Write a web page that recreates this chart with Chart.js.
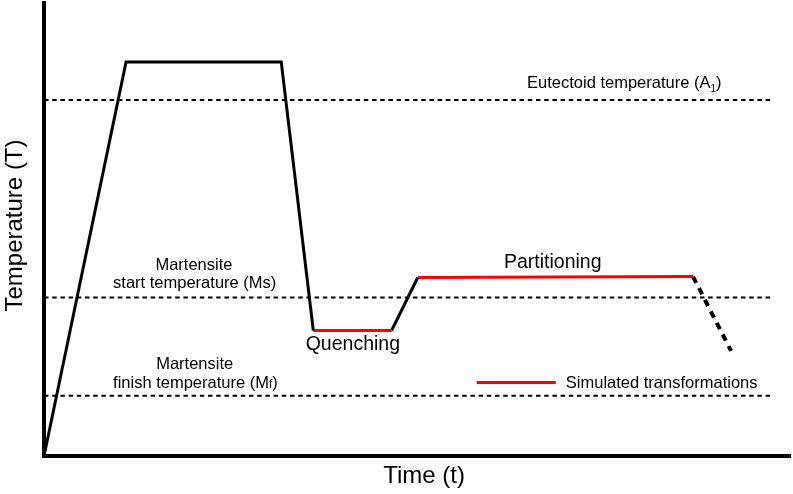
<!DOCTYPE html>
<html><head><meta charset="utf-8">
<script src="https://cdn.jsdelivr.net/npm/chart.js@4.4.1/dist/chart.umd.min.js"></script>
<style>html,body{margin:0;padding:0;background:#fff}#wrap{width:793px;height:494px;position:relative}</style>
</head><body><div id="wrap"><canvas id="c"></canvas></div>
<script>
// Heat-treatment path (time, temperature) in arbitrary units
const heatTime = [0, 11.0, 31.8, 36.1];
const heatTemp = [0, 87.0, 87.0, 27.7];
const quenchTime = [36.1, 46.6];
const quenchTemp = [27.7, 27.7];
const reheatTime = [46.6, 50.1];
const reheatTemp = [27.7, 39.4];
const partTime = [50.1, 87.0];
const partTemp = [39.4, 39.6];
const coolTime = [87.0, 92.1];
const coolTemp = [39.6, 23.2];
// Reference temperatures
const refNames = ['Eutectoid temperature (A1)', 'Martensite start temperature (Ms)', 'Martensite finish temperature (Mf)'];
const refTemps = [78.6, 35.0, 13.3];
const refSpan = [0, 97.5];
const axisTitles = ['Time (t)', 'Temperature (T)'];
const legendLabel = 'Simulated transformations';

const pts = (xs, ys) => xs.map((x, i) => ({x, y: ys[i]}));
const FONT = '"Liberation Sans", Arial, Helvetica, sans-serif';
const RED = '#ff0000';

const datasets = [
  {label: 'Heating', data: pts(heatTime, heatTemp), borderColor: '#000', borderWidth: 3},
  {label: legendLabel, data: pts(quenchTime, quenchTemp), borderColor: RED, borderWidth: 3},
  {label: 'Reheat', data: pts(reheatTime, reheatTemp), borderColor: '#000', borderWidth: 3},
  {label: 'Partitioning', data: pts(partTime, partTemp), borderColor: RED, borderWidth: 3},
  {label: 'Final cooling', data: pts(coolTime, coolTemp), borderColor: '#000', borderWidth: 4, borderDash: [7, 6]},
];
refTemps.forEach((t, i) => datasets.push({
  label: refNames[i], data: pts(refSpan, [t, t]), borderColor: '#000', borderWidth: 2, borderDash: [4.5, 3.7]
}));
datasets.forEach(d => { d.pointRadius = 0; d.tension = 0; d.fill = false; d.borderCapStyle = 'butt'; });

function drawParts(ctx, parts, px, py, align) {
  // parts: [text, size, dy]
  let total = 0;
  parts.forEach(p => { ctx.font = p[1] + 'px ' + FONT; total += ctx.measureText(p[0]).width; });
  let cx = align === 'center' ? px - total / 2 : px;
  ctx.textAlign = 'left';
  ctx.textBaseline = 'alphabetic';
  parts.forEach(p => {
    ctx.font = p[1] + 'px ' + FONT;
    ctx.fillText(p[0], cx, py + (p[2] || 0));
    cx += ctx.measureText(p[0]).width;
  });
}

const labelPlugin = {
  id: 'labels',
  afterDatasetsDraw(chart) {
    const {ctx, scales: {x, y}} = chart;
    const X = v => x.getPixelForValue(v), Y = v => y.getPixelForValue(v);
    ctx.save();
    ctx.fillStyle = '#000';
    drawParts(ctx, [['Eutectoid temperature (A', 16.5], ['1', 10, 3.5], [')', 16.5]], X(64.75), Y(81.2), 'left');
    drawParts(ctx, [['Martensite', 16.5]], X(20.1), Y(40.95), 'center');
    drawParts(ctx, [['start temperature (Ms)', 16.5]], X(20.2), Y(37.1), 'center');
    drawParts(ctx, [['Martensite', 16.5]], X(20.2), Y(19.2), 'center');
    drawParts(ctx, [['finish temperature (M', 16.5], ['f', 12, 0], [')', 16.5]], X(20.3), Y(15.1), 'center');
    drawParts(ctx, [['Quenching', 19.5]], X(41.4), Y(23.4), 'center');
    drawParts(ctx, [['Partitioning', 19.5]], X(68.2), Y(41.4), 'center');
    // legend
    ctx.strokeStyle = RED; ctx.lineWidth = 3;
    ctx.beginPath(); ctx.moveTo(X(58.0), Y(16.2)); ctx.lineTo(X(68.6), Y(16.2)); ctx.stroke();
    drawParts(ctx, [[legendLabel, 16.5]], X(69.95), Y(15.1), 'left');
    // axis titles
    drawParts(ctx, [[axisTitles[0], 24]], X(50.95), y.bottom + 26.5, 'center');
    ctx.translate(x.left - 22.5, y.getPixelForValue(50) - 4);
    ctx.rotate(-Math.PI / 2);
    drawParts(ctx, [[axisTitles[1], 24]], 0, 0, 'center');
    ctx.restore();
  }
};

new Chart(document.getElementById('c'), {
  type: 'line',
  data: {datasets},
  options: {
    responsive: true, maintainAspectRatio: false, animation: false,
    layout: {padding: {top: 3, right: 3, left: 44, bottom: 38}},
    plugins: {legend: {display: false}, tooltip: {enabled: false}},
    scales: {
      x: {type: 'linear', min: 0, max: 100,
        grid: {display: false, drawTicks: false}, ticks: {display: false},
        border: {display: true, color: '#000', width: 4},
        title: {display: false, text: axisTitles[0]}},
      y: {type: 'linear', min: 0, max: 100,
        grid: {display: false, drawTicks: false}, ticks: {display: false},
        border: {display: true, color: '#000', width: 4},
        title: {display: false, text: axisTitles[1]}}
    }
  },
  plugins: [labelPlugin]
});
</script></body></html>
